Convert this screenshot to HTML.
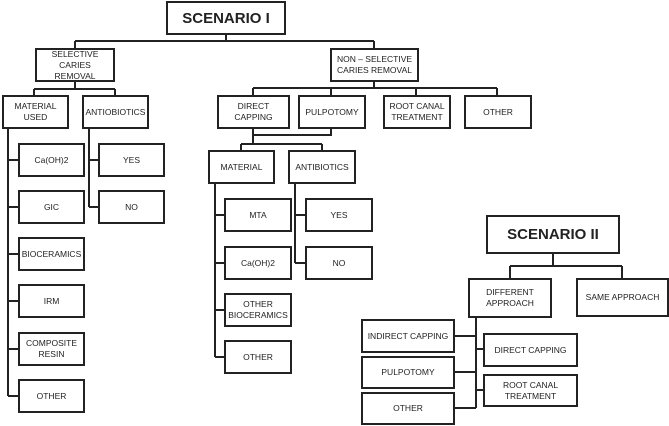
<!DOCTYPE html>
<html><head><style>
body{margin:0;width:669px;height:426px;background:#fff;position:relative;overflow:hidden;font-family:"Liberation Sans",sans-serif}
.b{position:absolute;box-sizing:border-box;border:2px solid #222;background:#fff;display:flex;align-items:center;justify-content:center;text-align:center;font-size:8.5px;line-height:11px;color:#222}
.t{font-weight:bold;font-size:15px}
svg{position:absolute;left:0;top:0}
</style></head><body>
<svg width="669" height="426" stroke="#222" stroke-width="2" fill="none">
<path d="M226 34V41M75 41H374M75 41V48M374 41V48"/>
<path d="M75 81V89M34 89H115M34 89V95M115 89V95"/>
<path d="M8 128V396M8 160H18M8 207H18M8 254H18M8 301H18M8 349H18M8 396H18"/>
<path d="M89 128V207M89 160H98M89 207H98"/>
<path d="M374 82V88M253 88H497M253 88V95M331 88V95M416 88V95M497 88V95"/>
<path d="M331 129V135H253M253 129V144M241 144H322M241 144V150M322 144V150"/>
<path d="M215 184V357M215 215H224M215 263H224M215 310H224M215 357H224"/>
<path d="M295 184V263M295 215H305M295 263H305"/>
<path d="M553 253V266M510 266H622M510 266V278M622 266V278"/>
<path d="M476 317V408M454 336H476M454 372H476M454 408H476M476 349H483M476 390H483"/>
</svg>
<div class="b t" style="left:166px;top:1px;width:120px;height:34px">SCENARIO I</div>
<div class="b" style="left:35px;top:48px;width:80px;height:34px">SELECTIVE CARIES<br>REMOVAL</div>
<div class="b" style="left:2px;top:95px;width:67px;height:34px">MATERIAL<br>USED</div>
<div class="b" style="left:82px;top:95px;width:67px;height:34px">ANTIOBIOTICS</div>
<div class="b" style="left:18px;top:143px;width:67px;height:34px">Ca(OH)2</div>
<div class="b" style="left:18px;top:190px;width:67px;height:34px">GIC</div>
<div class="b" style="left:18px;top:237px;width:67px;height:34px">BIOCERAMICS</div>
<div class="b" style="left:18px;top:284px;width:67px;height:34px">IRM</div>
<div class="b" style="left:18px;top:332px;width:67px;height:34px">COMPOSITE<br>RESIN</div>
<div class="b" style="left:18px;top:379px;width:67px;height:34px">OTHER</div>
<div class="b" style="left:98px;top:143px;width:67px;height:34px">YES</div>
<div class="b" style="left:98px;top:190px;width:67px;height:34px">NO</div>
<div class="b" style="left:330px;top:48px;width:89px;height:34px">NON – SELECTIVE<br>CARIES REMOVAL</div>
<div class="b" style="left:217px;top:95px;width:73px;height:34px">DIRECT<br>CAPPING</div>
<div class="b" style="left:298px;top:95px;width:68px;height:34px">PULPOTOMY</div>
<div class="b" style="left:383px;top:95px;width:68px;height:34px">ROOT CANAL<br>TREATMENT</div>
<div class="b" style="left:464px;top:95px;width:68px;height:34px">OTHER</div>
<div class="b" style="left:208px;top:150px;width:67px;height:34px">MATERIAL</div>
<div class="b" style="left:288px;top:150px;width:68px;height:34px">ANTIBIOTICS</div>
<div class="b" style="left:224px;top:198px;width:68px;height:34px">MTA</div>
<div class="b" style="left:224px;top:246px;width:68px;height:34px">Ca(OH)2</div>
<div class="b" style="left:224px;top:293px;width:68px;height:34px">OTHER<br>BIOCERAMICS</div>
<div class="b" style="left:224px;top:340px;width:68px;height:34px">OTHER</div>
<div class="b" style="left:305px;top:198px;width:68px;height:34px">YES</div>
<div class="b" style="left:305px;top:246px;width:68px;height:34px">NO</div>
<div class="b t" style="left:486px;top:215px;width:134px;height:39px">SCENARIO II</div>
<div class="b" style="left:468px;top:278px;width:84px;height:40px">DIFFERENT<br>APPROACH</div>
<div class="b" style="left:576px;top:278px;width:93px;height:39px">SAME APPROACH</div>
<div class="b" style="left:361px;top:319px;width:94px;height:34px">INDIRECT CAPPING</div>
<div class="b" style="left:361px;top:356px;width:94px;height:33px">PULPOTOMY</div>
<div class="b" style="left:361px;top:392px;width:94px;height:33px">OTHER</div>
<div class="b" style="left:483px;top:333px;width:95px;height:34px">DIRECT CAPPING</div>
<div class="b" style="left:483px;top:374px;width:95px;height:33px">ROOT CANAL<br>TREATMENT</div>
</body></html>
